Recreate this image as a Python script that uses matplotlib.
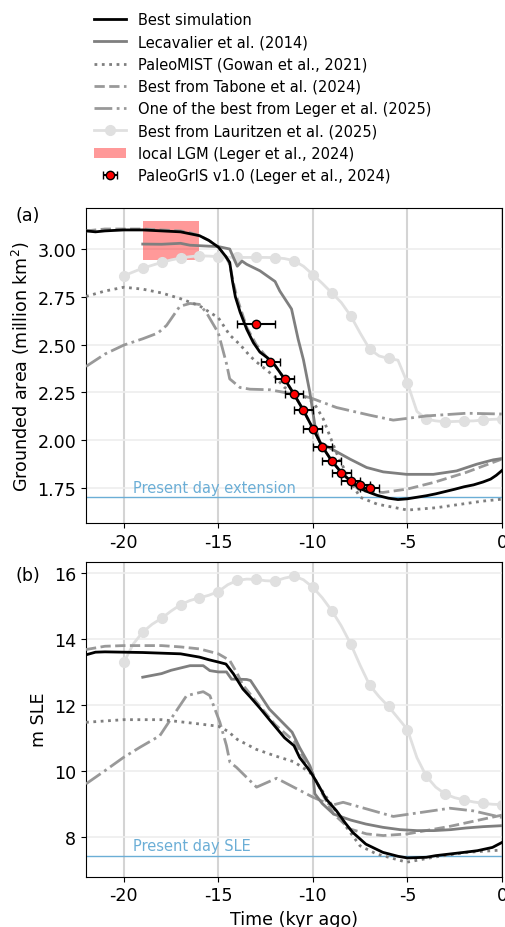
import numpy as np
import matplotlib.pyplot as plt

plt.rcParams['axes.unicode_minus'] = False

# --- Grounded area (million km2) ---
t_best_a = [-22, -21.5, -21, -20, -19, -18, -17, -16.5, -16, -15.5, -15, -14.6, -14.4, -14.25, -14.1,
            -13.85, -13.5, -13.15, -12.8, -12.4, -12.0, -11.5, -11.0, -10.5, -10.0, -9.5, -9.0, -8.5,
            -8.0, -7.5, -7.0, -6.6, -6.0, -5.5, -5.0, -4.5, -4.0, -3.5, -3.0, -2.5, -2.0, -1.5, -1.0,
            -0.6, -0.3, 0]
area_best = [3.095, 3.09, 3.095, 3.10, 3.10, 3.095, 3.09, 3.08, 3.07, 3.045, 3.01, 2.96, 2.93, 2.83, 2.75,
             2.67, 2.58, 2.51, 2.46, 2.43, 2.39, 2.32, 2.24, 2.155, 2.06, 1.965, 1.89, 1.83,
             1.785, 1.745, 1.725, 1.71, 1.695, 1.688, 1.692, 1.70, 1.708, 1.718, 1.73, 1.742, 1.755, 1.765, 1.78,
             1.795, 1.815, 1.84]

t_leca_a = [-19, -18, -17, -16.5, -15.5, -15, -14.4, -14.0, -13.75, -13.5, -12.8, -12.0, -11.75, -11.13,
            -10.78, -10.5, -10.16, -9.89, -9.63, -8.92, -8.04, -7.16, -6.28, -5.04, -3.63, -2.4, -1.34, -0.46, 0]
area_leca = [3.026, 3.025, 3.03, 3.02, 3.015, 3.013, 3.00, 2.91, 2.937, 2.92, 2.886, 2.83, 2.78, 2.686,
             2.528, 2.42, 2.249, 2.074, 1.987, 1.948, 1.90, 1.856, 1.833, 1.82, 1.82, 1.838, 1.873, 1.896, 1.903]

t_mist_a = [-22, -21, -20, -19, -18, -17, -16, -15, -14.4, -13.86, -13.33, -13, -12.5, -12, -11.5, -11,
            -10.5, -10, -9.8, -9.45, -9.1, -8.7, -8.3, -8.0, -7.5, -6.6, -5.0, -3.5, -1.0, 0]
area_mist = [2.752, 2.78, 2.80, 2.79, 2.77, 2.74, 2.703, 2.64, 2.55, 2.50, 2.44, 2.41, 2.37, 2.33, 2.275, 2.25,
             2.23, 2.20, 2.17, 2.11, 2.02, 1.92, 1.84, 1.78, 1.70, 1.664, 1.633, 1.645, 1.68, 1.69]

t_tab_a = [-22, -21, -20, -19, -18, -17, -16.5, -16, -15.5, -15, -14.6, -14.4, -14.2, -14.0, -13.5, -13,
           -12.5, -12, -11.5, -11, -10.5, -10, -9.5, -9, -8.5, -8, -7.5, -6.3, -5.0, -3.6, -1.9, 0]
area_tab = [3.095, 3.105, 3.105, 3.105, 3.10, 3.095, 3.085, 3.07, 3.045, 3.01, 2.96, 2.92, 2.82, 2.74, 2.59, 2.50,
            2.44, 2.39, 2.32, 2.24, 2.155, 2.06, 1.965, 1.89, 1.83, 1.78, 1.734, 1.725, 1.743, 1.778, 1.83, 1.90]

t_leg_a = [-22, -21, -20, -19, -18.2, -17.74, -17.04, -16.5, -16, -15.62, -15, -14.57, -14.4, -13.86, -13.33,
           -12.28, -11, -10.16, -8.75, -7, -5.75, -3.98, -1.87, 0]
area_leg = [2.385, 2.45, 2.497, 2.53, 2.56, 2.60, 2.70, 2.715, 2.71, 2.665, 2.56, 2.40, 2.32, 2.275, 2.266,
            2.263, 2.24, 2.222, 2.17, 2.13, 2.104, 2.126, 2.14, 2.136]

t_laur = np.arange(-20, 0.01, 0.5)
area_laur = [2.86, 2.88, 2.90, 2.915, 2.93, 2.943, 2.953, 2.96, 2.965, 2.963, 2.96, 2.957, 2.956, 2.956,
             2.956, 2.956, 2.955, 2.95, 2.939, 2.91, 2.866, 2.82, 2.77, 2.72, 2.65, 2.56, 2.476, 2.44,
             2.427, 2.418, 2.298, 2.15, 2.109, 2.10, 2.095, 2.097, 2.099, 2.10, 2.105, 2.108, 2.11]

# PaleoGrIS v1.0 reconstruction points
t_pg = [-13.0, -12.25, -11.5, -11.0, -10.5, -10.0, -9.5, -9.0, -8.5, -8.0, -7.5, -7.0]
area_pg = [2.609, 2.409, 2.317, 2.242, 2.156, 2.057, 1.964, 1.888, 1.825, 1.783, 1.763, 1.748]
terr_pg = [1.0, 0.5, 0.5, 0.5, 0.5, 0.5, 0.5, 0.5, 0.5, 0.5, 0.5, 0.5]

lgm_t = (-19.0, -16.0)
lgm_area = (2.94, 3.145)
present_area = 1.70

# --- Sea level equivalent (m SLE) ---
t_best_b = [-22, -21.5, -21, -20, -19, -18, -17, -16.5, -16, -15.5, -15, -14.6, -14.2, -13.7, -13.3,
            -12.8, -12.3, -11.5, -11.0, -10.7, -10.3, -10.0, -9.6, -9.3, -8.75, -8.3, -7.9, -7.2, -6.3,
            -5.5, -5.0, -4.0, -3.5, -2.75, -2.0, -1.3, -0.5, 0]
sle_best = [13.52, 13.6, 13.61, 13.6, 13.59, 13.57, 13.55, 13.5, 13.45, 13.37, 13.3, 13.24, 12.94, 12.48, 12.23,
            11.9, 11.55, 11.0, 10.76, 10.4, 10.1, 9.85, 9.45, 9.14, 8.78, 8.42, 8.13, 7.77, 7.52,
            7.4, 7.35, 7.37, 7.42, 7.47, 7.52, 7.57, 7.67, 7.82]

t_leca_b = [-19, -18, -17.5, -17, -16.5, -15.8, -15.45, -15, -14.57, -14.3, -14.0, -13.5, -13.3, -13, -12.3,
            -11.1, -10.7, -10.16, -10.0, -9.9, -9.5, -8.9, -8.0, -7.2, -6.3, -5.4, -4.5, -3.6, -2.7, -1.9,
            -1.0, 0]
sle_leca = [12.84, 12.95, 13.05, 13.12, 13.19, 13.19, 13.04, 13.0, 13.0, 12.78, 12.78, 12.77, 12.74, 12.48, 11.87,
            11.17, 10.7, 10.15, 9.9, 9.3, 9.0, 8.68, 8.5, 8.38, 8.28, 8.21, 8.18, 8.18, 8.21, 8.26,
            8.30, 8.33]

t_mist_b = [-22, -20, -18, -16, -15, -14.5, -14, -13, -12, -11, -10.16, -9.1, -8.22, -7.51, -6.63, -5.04,
            -3.63, -1.87, 0]
sle_mist = [11.47, 11.55, 11.55, 11.42, 11.35, 11.2, 10.95, 10.65, 10.45, 10.27, 9.95, 9.04, 8.28, 7.72, 7.47, 7.22,
            7.37, 7.52, 7.59]

t_tab_b = [-22, -21, -20, -18, -17, -16, -15, -14.4, -14, -13.7, -13, -12, -11, -10, -9.5, -8.9, -8.04,
           -7.16, -6.28, -5, -4.51, -2.75, -0.98, 0]
sle_tab = [13.68, 13.78, 13.8, 13.8, 13.76, 13.7, 13.55, 13.35, 12.95, 12.6, 12.1, 11.4, 10.9, 9.9, 9.3, 8.68, 8.23,
           8.08, 8.03, 8.08, 8.13, 8.31, 8.53, 8.65]

t_leg_b = [-22, -21, -20, -19.15, -18.1, -17.57, -16.68, -15.8, -15.45, -14.92, -14.57, -14.39, -14.04, -12.98,
           -11.92, -9.98, -9.0, -8.4, -5.75, -2.75, -1.52, 0]
sle_leg = [9.6, 10.0, 10.41, 10.71, 11.06, 11.52, 12.28, 12.4, 12.28, 11.47, 10.76, 10.26, 10.1, 9.5,
           9.77, 9.19, 8.95, 9.04, 8.61, 8.86, 8.78, 8.58]

sle_laur = [13.29, 13.85, 14.21, 14.45, 14.63, 14.85, 15.04, 15.17, 15.25, 15.33, 15.44, 15.65, 15.78, 15.82,
            15.81, 15.77, 15.76, 15.85, 15.91, 15.8, 15.57, 15.25, 14.86, 14.4, 13.85, 13.2, 12.6, 12.25,
            11.95, 11.6, 11.25, 10.4, 9.83, 9.5, 9.29, 9.18, 9.11, 9.05, 9.01, 8.98, 8.97]

present_sle = 7.4

C_PRESENT = '#6baed6'
FS_LAB = 12.6
FS_SMALL = 10.5

fig = plt.figure(figsize=(5.06, 9.28), dpi=100)
ax1 = fig.add_axes([0.170, 0.4353, 0.822, 0.3395])
ax2 = fig.add_axes([0.170, 0.0542, 0.822, 0.3395])


def draw_models(ax, best, leca, mist, tab, leg, laur):
    h = []
    h += ax.plot(best[0], best[1], color='black', lw=2, zorder=5, label='Best simulation')
    h += ax.plot(leca[0], leca[1], color='#7f7f7f', lw=2, zorder=4, label='Lecavalier et al. (2014)')
    h += ax.plot(mist[0], mist[1], color='#7f7f7f', lw=2, ls=':', zorder=4, label='PaleoMIST (Gowan et al., 2021)')
    h += ax.plot(tab[0], tab[1], color='#999999', lw=2, ls='--', zorder=3, label='Best from Tabone et al. (2024)')
    h += ax.plot(leg[0], leg[1], color='#999999', lw=2, ls='-.', zorder=3,
                 label='One of the best from Leger et al. (2025)')
    h += ax.plot(laur[0], laur[1], color='#e0e0e0', lw=2, marker='o', ms=7, markevery=2, zorder=2,
                 label='Best from Lauritzen et al. (2025)')
    return h


handles = draw_models(ax1, (t_best_a, area_best), (t_leca_a, area_leca), (t_mist_a, area_mist),
                      (t_tab_a, area_tab), (t_leg_a, area_leg), (t_laur, area_laur))
rect = ax1.fill_between(lgm_t, lgm_area[0], lgm_area[1], color='red', alpha=0.4, lw=0, zorder=1,
                        label='local LGM (Leger et al., 2024)')
eb = ax1.errorbar(t_pg, area_pg, xerr=terr_pg, fmt='o', color='black', mfc='red', mec='black', ms=6,
                  capsize=3, elinewidth=1.5, zorder=6, label='PaleoGrIS v1.0 (Leger et al., 2024)')
ax1.axhline(present_area, color=C_PRESENT, lw=1, zorder=1)
ax1.text(-19.5, present_area + 0.012, 'Present day extension', color=C_PRESENT, fontsize=FS_SMALL, va='bottom')
ax1.set_ylim(1.565, 3.215)
ax1.set_yticks([1.75, 2.00, 2.25, 2.50, 2.75, 3.00])
ax1.set_yticklabels(['1.75', '2.00', '2.25', '2.50', '2.75', '3.00'])
ax1.set_ylabel('Grounded area (million km$^2$)', fontsize=FS_LAB)

draw_models(ax2, (t_best_b, sle_best), (t_leca_b, sle_leca), (t_mist_b, sle_mist),
            (t_tab_b, sle_tab), (t_leg_b, sle_leg), (t_laur, sle_laur))
ax2.axhline(present_sle, color=C_PRESENT, lw=1, zorder=1)
ax2.text(-19.5, present_sle + 0.1, 'Present day SLE', color=C_PRESENT, fontsize=FS_SMALL, va='bottom')
ax2.set_ylim(6.78, 16.35)
ax2.set_yticks([8, 10, 12, 14, 16])
ax2.set_ylabel('m SLE', fontsize=FS_LAB)
ax2.set_xlabel('Time (kyr ago)', fontsize=FS_LAB)

for ax in (ax1, ax2):
    ax.set_xlim(-22, 0)
    ax.set_xticks([-20, -15, -10, -5, 0])
    ax.set_xticklabels(['-20', '-15', '-10', '-5', '0'])
    ax.tick_params(labelsize=FS_LAB)
    ax.grid(axis='x', color='#d4d4d4', lw=1.5, zorder=0)
    ax.grid(axis='y', color='#eeeeee', lw=1.2, zorder=0)
    ax.set_axisbelow(True)

fig.text(0.03, 0.767, '(a)', fontsize=FS_LAB, va='center')
fig.text(0.03, 0.379, '(b)', fontsize=FS_LAB, va='center')

fig.legend(handles + [rect, eb], [h.get_label() for h in handles + [rect, eb]],
           loc='upper left', bbox_to_anchor=(0.16, 1.0), frameon=False, fontsize=FS_SMALL,
           handlelength=2.2)

fig.savefig('out.png', dpi=100)
